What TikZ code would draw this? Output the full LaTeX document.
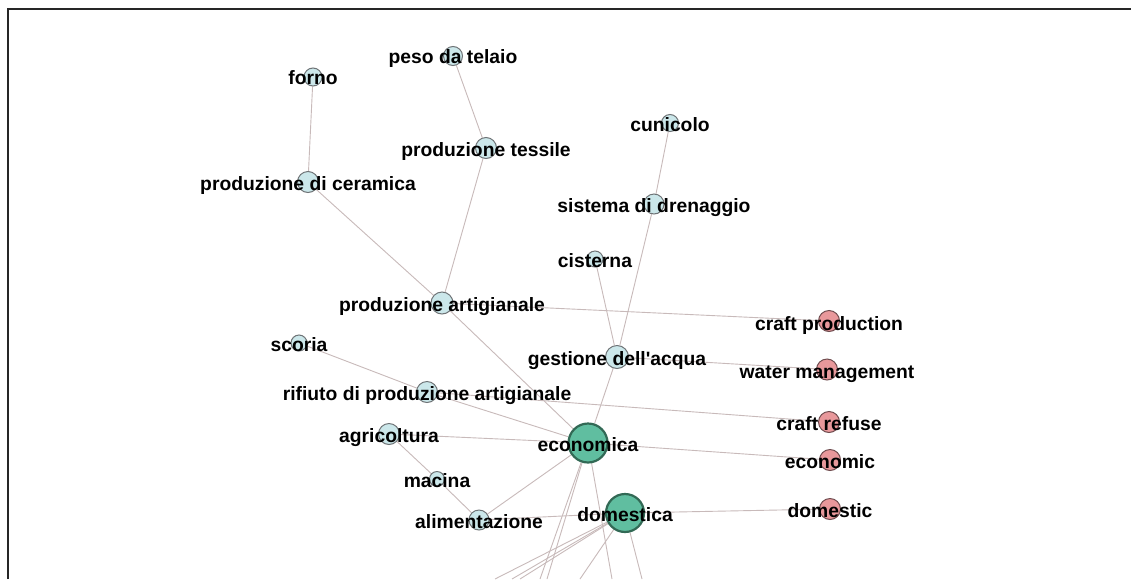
\documentclass[tikz,border=0pt]{standalone}
\usepackage{fontspec}
\setmainfont{Liberation Sans}
\pgfdeclarelayer{bg}
\pgfsetlayers{bg,main}
\definecolor{edgecol}{RGB}{200,186,186}
\definecolor{lblue}{RGB}{203,231,234}
\definecolor{bstroke}{RGB}{110,115,118}
\definecolor{tealf}{RGB}{96,190,160}
\definecolor{tstroke}{RGB}{50,105,85}
\definecolor{pinkf}{RGB}{232,152,155}
\definecolor{pstroke}{RGB}{110,75,78}
\tikzset{
  bnode/.style={circle, draw=bstroke, fill=lblue, line width=1pt, inner sep=0pt, minimum size=#1},
  gnode/.style={circle, draw=tstroke, fill=tealf, line width=2.2pt, inner sep=0pt, minimum size=#1},
  pnode/.style={circle, draw=pstroke, fill=pinkf, line width=1pt, inner sep=0pt, minimum size=#1},
  lbl/.style={font=\fontsize{19.3}{22}\selectfont\bfseries, anchor=base, inner sep=0pt, text=black},
  edge/.style={draw=edgecol, line width=0.9pt},
  frame/.style={draw=black!85, line width=1.7pt}
}
\begin{document}
\begin{tikzpicture}[x=1pt,y=-1pt]
\useasboundingbox (0,0) rectangle (1131,579);
\begin{pgfonlayer}{bg}
\fill[white] (0,0) rectangle (1131,579);
\end{pgfonlayer}
\draw[frame] (8,579) -- (8,9) -- (1131,9);

% nodes
\node[bnode=18] (forno) at (313,77) {};
\node[bnode=19] (peso) at (453,56) {};
\node[bnode=21] (tessile) at (486,148) {};
\node[bnode=21] (ceramica) at (308,182) {};
\node[bnode=17] (cunicolo) at (670,123) {};
\node[bnode=20] (drenaggio) at (654,204) {};
\node[bnode=16] (cisterna) at (595,259) {};
\node[bnode=22] (artigianale) at (442,303) {};
\node[bnode=23] (gestione) at (617,357) {};
\node[bnode=16] (scoria) at (299,343) {};
\node[bnode=21] (rifiuto) at (427,392) {};
\node[bnode=21] (agricoltura) at (389,434) {};
\node[bnode=15] (macina) at (437,479) {};
\node[bnode=20] (alimentazione) at (479,520) {};
\node[gnode=39] (economica) at (588,443) {};
\node[gnode=38] (domestica) at (625,513) {};
\node[pnode=21] (craftprod) at (829,321) {};
\node[pnode=21] (waterman) at (827,369.5) {};
\node[pnode=21] (craftref) at (829,422) {};
\node[pnode=21] (economic) at (830,460) {};
\node[pnode=21] (domestic) at (830,509) {};

% off-frame ends
\coordinate (o1) at (540,579);
\coordinate (o2) at (547,579);
\coordinate (o3) at (612,579);
\coordinate (o4) at (495,579);
\coordinate (o5) at (512,579);
\coordinate (o6) at (520,579);
\coordinate (o7) at (580,579);
\coordinate (o8) at (642,579);

\begin{pgfonlayer}{bg}
\draw[edge] (forno) -- (ceramica);
\draw[edge] (peso) -- (tessile);
\draw[edge] (tessile) -- (artigianale);
\draw[edge] (ceramica) -- (artigianale);
\draw[edge] (cunicolo) -- (drenaggio);
\draw[edge] (drenaggio) -- (gestione);
\draw[edge] (cisterna) -- (gestione);
\draw[edge] (gestione) -- (economica);
\draw[edge] (artigianale) -- (craftprod);
\draw[edge] (gestione) -- (waterman);
\draw[edge] (rifiuto) -- (craftref);
\draw[edge] (economica) -- (economic);
\draw[edge] (domestica) -- (domestic);
\draw[edge] (scoria) -- (rifiuto);
\draw[edge] (rifiuto) -- (economica);
\draw[edge] (artigianale) -- (economica);
\draw[edge] (agricoltura) -- (economica);
\draw[edge] (agricoltura) -- (macina);
\draw[edge] (macina) -- (alimentazione);
\draw[edge] (alimentazione) -- (economica);
\draw[edge] (alimentazione) -- (domestica);
\draw[edge] (economica) -- (o1);
\draw[edge] (economica) -- (o2);
\draw[edge] (economica) -- (o3);
\draw[edge] (domestica) -- (o4);
\draw[edge] (domestica) -- (o5);
\draw[edge] (domestica) -- (o6);
\draw[edge] (domestica) -- (o7);
\draw[edge] (domestica) -- (o8);
\end{pgfonlayer}

% labels
\node[lbl] (forno-l) at ([yshift=-7pt]forno.center) {forno};
\node[lbl] (peso-l) at ([yshift=-7pt]peso.center) {peso da telaio};
\node[lbl] (tessile-l) at ([yshift=-8pt]tessile.center) {produzione tessile};
\node[lbl] (ceramica-l) at ([yshift=-8pt]ceramica.center) {produzione di ceramica};
\node[lbl] (cunicolo-l) at ([yshift=-8pt]cunicolo.center) {cunicolo};
\node[lbl] (drenaggio-l) at ([yshift=-8pt]drenaggio.center) {sistema di drenaggio};
\node[lbl] (cisterna-l) at ([yshift=-8pt]cisterna.center) {cisterna};
\node[lbl] (artigianale-l) at ([yshift=-8pt]artigianale.center) {produzione artigianale};
\node[lbl] (gestione-l) at ([yshift=-8pt]gestione.center) {gestione dell\textquotesingle acqua};
\node[lbl] (scoria-l) at ([yshift=-8pt]scoria.center) {scoria};
\node[lbl] (rifiuto-l) at ([yshift=-8pt]rifiuto.center) {rifiuto di produzione artigianale};
\node[lbl] (agricoltura-l) at ([yshift=-8pt]agricoltura.center) {agricoltura};
\node[lbl] (macina-l) at ([yshift=-8pt]macina.center) {macina};
\node[lbl] (alimentazione-l) at ([yshift=-8pt]alimentazione.center) {alimentazione};
\node[lbl] (economica-l) at ([yshift=-8pt]economica.center) {economica};
\node[lbl] (domestica-l) at ([yshift=-8pt]domestica.center) {domestica};
\node[lbl] (craftprod-l) at ([yshift=-9pt]craftprod.center) {craft production};
\node[lbl] (waterman-l) at ([yshift=-9pt]waterman.center) {water management};
\node[lbl] (craftref-l) at ([yshift=-8pt]craftref.center) {craft refuse};
\node[lbl] (economic-l) at ([yshift=-8pt]economic.center) {economic};
\node[lbl] (domestic-l) at ([yshift=-8pt]domestic.center) {domestic};
\end{tikzpicture}
\end{document}
